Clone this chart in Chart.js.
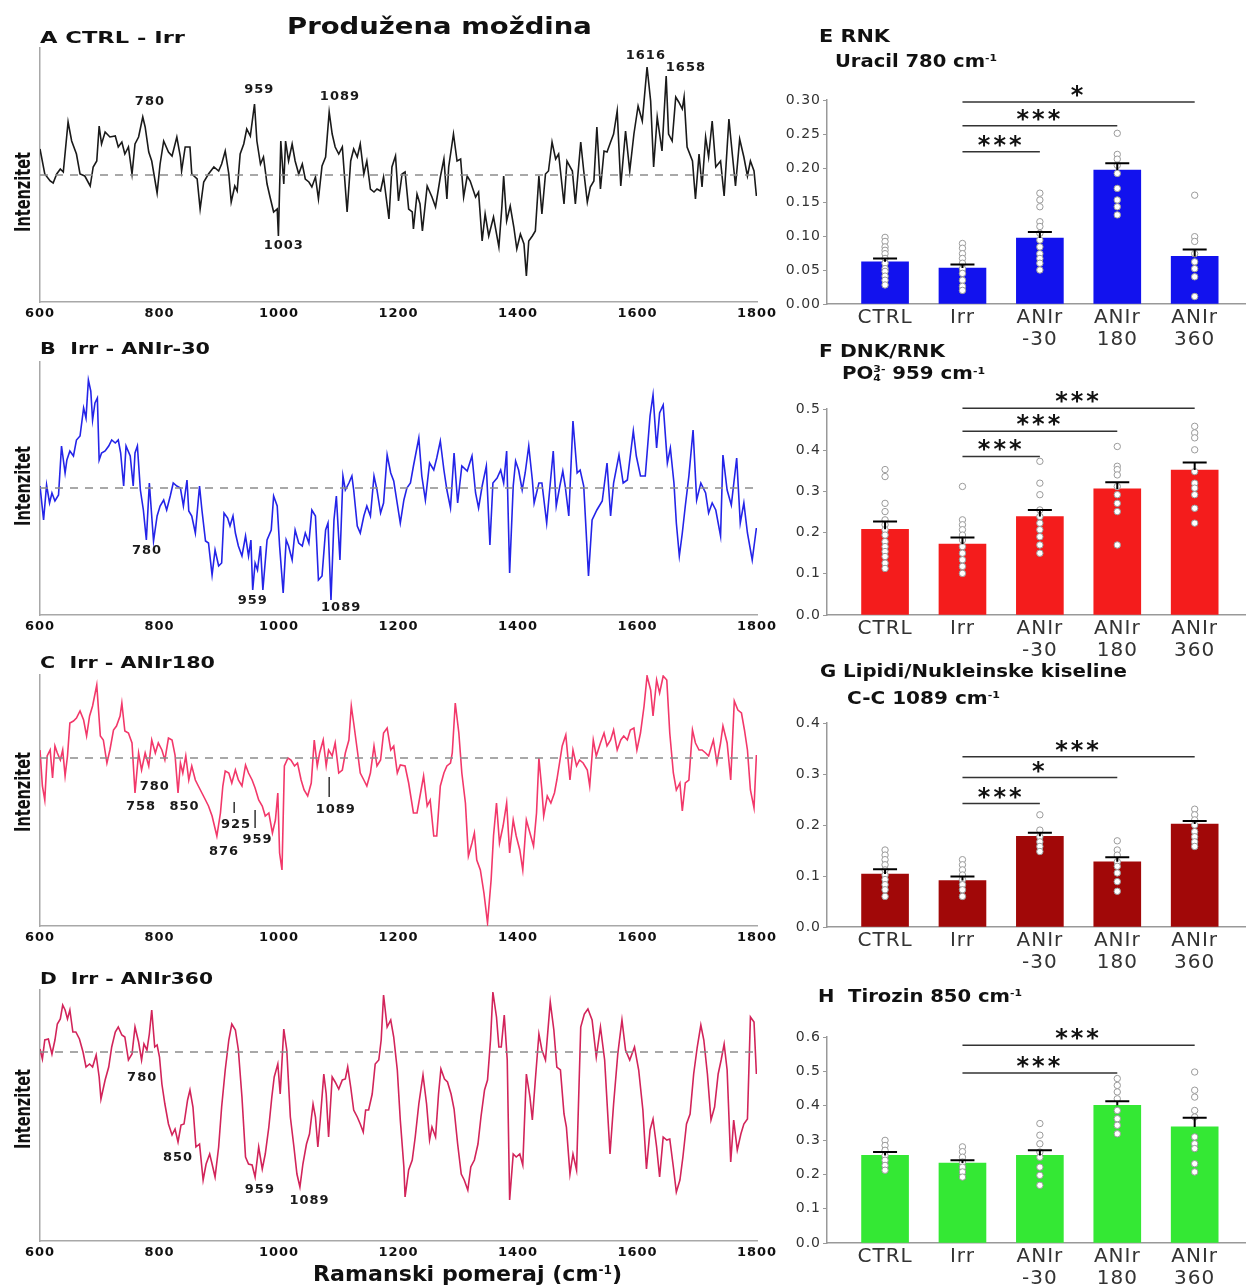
<!DOCTYPE html>
<html>
<head>
<meta charset="utf-8">
<script src="https://cdn.jsdelivr.net/npm/chart.js"></script>
<style>
body{margin:0;width:1250px;height:1288px;position:relative;overflow:hidden;background:#fff;font-family:"DejaVu Sans",sans-serif;}
canvas{position:absolute;}
.t{position:absolute;font-weight:bold;white-space:nowrap;line-height:1;color:#111;transform-origin:0 0;z-index:2;}
.t sup{font-size:0.55em;vertical-align:0.6em;line-height:0;}
.po{display:inline-block;vertical-align:-0.2em;font-size:0.55em;line-height:1;text-align:left;}
.yl{position:absolute;font-weight:bold;white-space:nowrap;line-height:1;color:#111;font-size:21px;z-index:2;}
</style>
</head>
<body>
<canvas id="spA" width="790" height="313" style="left:0;top:18px"></canvas>
<canvas id="spB" width="790" height="312" style="left:0;top:332px"></canvas>
<canvas id="spC" width="790" height="310" style="left:0;top:645px"></canvas>
<canvas id="spD" width="790" height="310" style="left:0;top:960px"></canvas>
<canvas id="stE" width="490" height="299" style="left:760px;top:60px"></canvas>
<canvas id="stF" width="490" height="301" style="left:760px;top:369px"></canvas>
<canvas id="stG" width="490" height="299" style="left:760px;top:683px"></canvas>
<canvas id="stH" width="490" height="301" style="left:760px;top:997px"></canvas>

<div class="t" style="left:287px;top:15px;font-size:23px" data-w="305">Produžena moždina</div>
<div class="t" style="left:40px;top:31px;font-size:15px" data-w="145">A CTRL - Irr</div>
<div class="t" style="left:40px;top:341px;font-size:16px" data-w="170">B&nbsp; Irr - ANIr-30</div>
<div class="t" style="left:40px;top:655px;font-size:16px" data-w="175">C&nbsp; Irr - ANIr180</div>
<div class="t" style="left:40px;top:971px;font-size:16px" data-w="173">D&nbsp; Irr - ANIr360</div>
<div class="t" style="left:819px;top:28px;font-size:17px" data-w="71">E RNK</div>
<div class="t" style="left:835px;top:53px;font-size:17px" data-w="162">Uracil 780 cm<sup>-1</sup></div>
<div class="t" style="left:819px;top:343px;font-size:17px" data-w="126">F DNK/RNK</div>
<div class="t" style="left:842px;top:364px;font-size:17px" data-w="143">PO<span class="po">3-<br>4</span> 959 cm<sup>-1</sup></div>
<div class="t" style="left:820px;top:663px;font-size:17px" data-w="307">G Lipidi/Nukleinske kiseline</div>
<div class="t" style="left:847px;top:690px;font-size:17px" data-w="153">C-C 1089 cm<sup>-1</sup></div>
<div class="t" style="left:818px;top:988px;font-size:17px" data-w="204">H&nbsp; Tirozin 850 cm<sup>-1</sup></div>
<div class="t" style="left:313px;top:1263px;font-size:22px" data-w="309">Ramanski pomeraj (cm<sup>-1</sup>)</div>
<div class="yl" style="left:23px;top:192px" data-h="80">Intenzitet</div>
<div class="yl" style="left:23px;top:486px" data-h="80">Intenzitet</div>
<div class="yl" style="left:23px;top:792px" data-h="80">Intenzitet</div>
<div class="yl" style="left:23px;top:1109px" data-h="80">Intenzitet</div>

<script>
// Razlike spektara (pomeraj u cm-1 i intenzitet, proizvoljne jedinice)
var ramanA = [600,608,617,622,628,634,639,647,653,661,667,675,684,689,695,699,703,709,717,726,731,737,742,748,754,759,765,772,776,782,787,796,801,807,815,821,829,835,837,843,851,854,863,868,874,882,891,899,904,910,916,920,926,930,935,941,946,952,959,963,969,974,980,985,991,997,999,1003,1008,1011,1016,1022,1027,1033,1039,1044,1050,1055,1061,1066,1072,1078,1084,1089,1094,1100,1106,1114,1120,1125,1131,1136,1142,1147,1153,1159,1164,1170,1175,1184,1189,1195,
  1200,1206,1211,1217,1223,1225,1231,1236,1240,1248,1256,1262,1270,1276,1281,1284,1292,1298,1304,1309,1315,1320,1329,1334,1340,1345,1351,1359,1368,1373,1376,1381,1387,1393,1398,1404,1410,1414,1418,1424,1429,1435,1440,1446,1451,1457,1463,1468,1477,1482,1491,1496,1505,1510,1516,1521,1527,1532,1538,1544,1549,1555,1560,1566,1572,1580,1587,1594,1601,1608,1616,1622,1627,1633,1641,1648,1652,1658,1664,1669,1675,1678,1683,1692,1697,1703,1708,1714,1719,1725,1731,1739,1745,1753,1759,1764,1771,1778,1784,1789,1795,1799];
var intA = [26,1,-6,-8,1,6,3,53,34,21,1,-1,-11,8,14,49,31,43,38,39,28,33,21,28,1,31,38,58,48,23,14,-18,11,34,23,19,38,18,4,28,28,1,-4,-34,-7,1,8,4,11,24,1,-27,-11,-16,21,31,46,39,71,34,11,18,-9,-22,-37,-34,-61,34,-9,34,14,31,14,1,11,-4,-7,-12,-2,-24,9,18,63,41,28,21,28,-37,14,26,18,31,1,14,-14,-17,-14,-16,-2,-44,8,19,
  -26,1,3,-34,-37,-54,-19,-29,-56,-11,-22,-32,-2,16,-24,8,41,14,16,-22,-1,-6,-22,-17,-66,-39,-61,-42,-72,-32,-1,-46,-31,-52,-74,-59,-69,-101,-66,-61,-56,-1,-39,1,4,33,16,21,-29,14,4,-29,33,4,-27,-12,-6,48,-14,24,23,33,41,64,-11,44,4,41,69,54,108,74,8,58,24,99,41,34,78,73,66,78,28,14,-24,21,-12,38,18,54,8,14,-21,56,19,-11,36,18,-1,14,4,-21];

var ramanB = [600,606,611,616,620,625,631,636,642,645,650,656,661,667,673,677,681,685,688,692,696,699,703,709,715,720,726,731,735,740,744,751,756,759,763,768,773,778,783,790,796,801,807,812,818,823,829,835,840,846,849,854,860,867,871,877,882,888,893,899,904,908,914,918,923,927,932,938,944,949,953,956,960,964,969,973,980,987,991,997,1001,1007,1012,1016,1022,1027,1033,1039,1044,1050,1055,1061,1066,1072,1078,1082,1087,1092,1096,1102,1107,1111,1117,1122,1125,1131,1136,1142,1147,1153,1159,1164,1170,1175,1181,1187,1192,
  1203,1209,1214,1220,1225,1234,1239,1245,1252,1259,1264,1270,1276,1281,1287,1293,1299,1306,1315,1323,1329,1334,1340,1347,1353,1358,1365,1371,1376,1381,1386,1392,1396,1401,1407,1412,1418,1424,1427,1435,1440,1448,1451,1459,1464,1470,1475,1479,1485,1492,1499,1504,1510,1518,1524,1532,1541,1549,1555,1560,1569,1576,1583,1593,1598,1605,1613,1621,1626,1632,1637,1643,1650,1655,1661,1665,1670,1675,1680,1686,1693,1699,1706,1714,1719,1725,1731,1739,1743,1750,1757,1766,1772,1778,1784,1792,1799];
var intB = [2,-32,3,-15,-5,-13,-7,42,15,28,37,32,48,52,80,70,108,97,68,85,90,28,35,37,42,48,45,48,35,2,42,32,2,35,42,-2,-22,-52,5,-53,-28,-18,-12,-22,-8,5,2,0,-18,8,-23,-28,-45,2,-22,-53,-55,-87,-62,-78,-75,-25,-30,-38,-28,-45,-58,-68,-48,-68,-52,-102,-75,-82,-58,-102,-52,-42,-8,-18,-58,-105,-52,-58,-72,-42,-55,-58,-45,-55,-22,-28,-92,-88,-42,-35,-112,-32,-8,-72,12,-2,5,12,-2,-38,-45,-28,-18,-28,12,-2,-25,-15,33,15,7,
  -35,-12,0,5,22,50,12,-12,25,18,30,47,18,-2,-20,35,-15,22,17,32,-5,-20,2,22,-57,5,10,18,5,37,-85,2,27,18,-2,15,42,8,-15,5,5,-35,-15,37,-18,2,17,2,-28,67,15,18,2,-88,-32,-22,-13,25,-28,5,33,5,8,57,32,12,12,72,93,40,75,83,25,40,5,-35,-68,-45,-18,12,58,-12,5,-5,-25,-15,-22,-48,33,-2,-17,30,-35,-15,-45,-72,-40];

var ramanC = [600,604,608,612,617,621,625,629,634,638,642,646,650,656,661,667,673,678,683,688,695,701,706,712,717,723,728,734,737,742,748,754,759,765,770,776,782,787,793,798,804,809,815,821,826,831,835,839,844,849,854,860,865,871,877,882,888,896,902,906,910,916,921,927,932,938,944,949,955,960,966,972,977,983,989,994,998,1001,1005,1009,1015,1020,1026,1031,1037,1042,1048,1054,1059,1064,1068,1074,1079,1083,1089,1094,1100,1106,1111,1117,1121,1125,1131,1136,1142,1147,1153,1159,1164,1170,1175,1181,1187,1192,1198,
  1203,1211,1217,1225,1231,1236,1242,1248,1253,1259,1264,1270,1276,1281,1287,1290,1295,1301,1306,1312,1317,1323,1327,1331,1337,1343,1349,1355,1359,1364,1369,1375,1381,1386,1392,1397,1403,1408,1414,1420,1426,1431,1435,1440,1443,1449,1455,1461,1465,1474,1480,1487,1492,1498,1503,1509,1516,1520,1526,1531,1538,1544,1549,1555,1560,1566,1572,1577,1583,1588,1594,1599,1605,1611,1616,1622,1626,1632,1637,1643,1649,1654,1660,1665,1671,1675,1680,1686,1692,1697,1703,1708,1714,1719,1727,1733,1739,1743,1750,1756,1762,1768,1774,1779,1784,1789,1795,1799];
var intC = [8,-28,-42,2,8,-20,12,5,-2,8,-18,2,35,37,40,47,38,22,42,52,73,22,18,-5,8,28,32,42,55,27,25,15,-35,5,-12,5,-8,18,5,15,8,-2,20,18,3,-35,-5,-15,2,-22,-8,-22,-28,-35,-42,-48,-58,-78,-55,-28,-13,-15,-25,-12,-22,-28,-7,-15,-22,-30,-42,-48,-58,-55,-75,-62,-35,-95,-112,-8,0,-2,-8,-5,-22,-32,-38,-25,18,-8,5,18,-8,8,2,15,-15,-12,5,18,52,35,8,-15,-22,-28,-15,12,-8,-2,25,30,8,12,-15,
  -7,-8,-25,-55,-55,-38,-18,-48,-42,-78,-78,-28,-15,-8,-5,5,55,25,-15,-45,-98,-85,-75,-102,-112,-135,-165,-122,-78,-45,-85,-68,-45,-95,-62,-78,-92,-112,-62,-75,-88,-55,0,-32,-58,-38,-45,-35,-22,12,23,-22,8,-8,-2,-5,-12,-28,18,2,15,25,12,18,28,8,18,22,18,28,30,8,25,52,82,68,42,78,65,82,78,25,-15,-32,-25,-53,-25,-22,28,15,8,8,5,2,18,-5,15,32,15,-22,57,48,45,28,8,-32,-50,3];

var ramanD = [600,604,608,614,620,625,629,634,638,642,646,650,655,660,666,672,677,683,688,694,699,702,709,715,720,726,731,737,742,748,754,759,765,770,774,779,783,787,792,796,800,804,809,815,821,826,831,836,841,847,851,856,861,867,873,878,884,888,893,899,904,910,916,921,927,932,938,944,949,955,960,966,972,977,983,988,992,998,1002,1008,1013,1019,1025,1030,1035,1040,1046,1051,1057,1061,1065,1069,1075,1079,1083,1089,1094,1100,1106,1111,1115,1120,1125,1131,1136,1141,1145,1150,1156,1161,1167,1171,1175,1181,1187,1192,1198,
  1203,1209,1211,1217,1223,1228,1234,1241,1247,1252,1256,1262,1267,1271,1277,1282,1288,1293,1299,1305,1310,1316,1321,1327,1333,1338,1344,1349,1354,1358,1364,1368,1372,1377,1382,1386,1392,1397,1403,1408,1414,1420,1424,1429,1435,1440,1446,1454,1460,1465,1471,1477,1481,1487,1492,1498,1505,1511,1517,1524,1531,1538,1545,1554,1560,1567,1574,1580,1587,1595,1602,1609,1615,1621,1626,1632,1637,1643,1649,1654,1660,1665,1671,1676,1682,1688,1694,1700,1706,1711,1717,1723,1729,1735,1740,1745,1750,1756,1761,1767,1773,1778,1784,1789,1795,1799];
var intD = [3,-7,12,13,-2,12,28,33,47,42,33,42,20,20,13,0,-15,-12,-15,-3,-25,-47,-28,-15,5,20,25,17,15,-8,-2,25,10,-8,8,2,18,42,5,7,-5,-32,-52,-72,-83,-77,-90,-73,-72,-48,-38,-55,-95,-92,-128,-112,-102,-112,-125,-95,-55,-18,12,28,22,2,-45,-105,-112,-113,-125,-95,-117,-102,-75,-45,-25,-12,-42,23,2,-65,-95,-122,-135,-112,-92,-82,-52,-65,-95,-68,-22,-42,-85,-25,-30,-37,-28,-27,-15,-35,-58,-65,-72,-80,-58,-58,-42,-12,-8,12,57,25,32,15,-18,
  -68,-115,-145,-118,-108,-85,-52,-23,-52,-88,-75,-85,-42,-17,-27,-30,-42,-57,-92,-122,-128,-138,-115,-108,-92,-65,-38,-28,12,60,35,5,5,37,-8,-148,-102,-105,-102,-113,-22,-45,-68,-28,18,2,-8,50,22,-15,-18,-62,-75,-122,-102,-118,25,38,43,32,-5,25,-8,-102,-52,-2,32,2,-8,5,-18,-58,-117,-78,-67,-95,-125,-85,-88,-87,-115,-140,-128,-105,-72,-62,-22,5,27,12,-22,-68,-55,-22,-8,8,-18,-110,-68,-98,-82,-72,-67,35,30,-22];

// Oznake pikova: [tekst, pomeraj, intenzitet]
var pikoviA = [['780', 784, 73], ['959', 967, 85], ['1089', 1102, 78], ['1003', 1008, -71], ['1616', 1614, 119], ['1658', 1681, 107]];
var pikoviB = [['780', 779, -63], ['959', 956, -113], ['1089', 1104, -120]];
var pikoviC = [['780', 792, -29], ['758', 769, -49], ['850', 842, -49], ['925', 928, -67], ['959', 964, -82], ['876', 908, -94], ['1089', 1095, -52]];
var crticeC = [[925, -44, -55], [960, -52, -70], [1084, -19, -39]];
var pikoviD = [['780', 771, -26], ['850', 831, -106], ['959', 968, -138], ['1089', 1051, -149]];

// Stubicasti grafici
var grupe = [['CTRL'], ['Irr'], ['ANIr', '-30'], ['ANIr', '180'], ['ANIr', '360']];

var srednjeE = [0.062, 0.053, 0.097, 0.197, 0.070];
var semE = [0.005, 0.005, 0.009, 0.010, 0.010];
var tackeE = [
  [0.098, 0.092, 0.084, 0.079, 0.074, 0.067, 0.060, 0.052, 0.048, 0.041, 0.035, 0.028],
  [0.089, 0.082, 0.074, 0.067, 0.060, 0.052, 0.045, 0.035, 0.026, 0.020],
  [0.163, 0.153, 0.143, 0.121, 0.114, 0.104, 0.094, 0.084, 0.074, 0.067, 0.060, 0.050],
  [0.251, 0.220, 0.213, 0.204, 0.192, 0.170, 0.153, 0.143, 0.131],
  [0.160, 0.099, 0.092, 0.074, 0.062, 0.052, 0.040, 0.011]
];
var znacajE = [{ od: 2, doG: 3, y: 0.224, t: '***' }, { od: 2, doG: 4, y: 0.262, t: '***' }, { od: 2, doG: 5, y: 0.297, t: '*' }];

var srednjeF = [0.208, 0.172, 0.239, 0.306, 0.352];
var semF = [0.019, 0.016, 0.016, 0.016, 0.018];
var tackeF = [
  [0.353, 0.336, 0.271, 0.251, 0.231, 0.219, 0.207, 0.194, 0.178, 0.166, 0.154, 0.142, 0.126, 0.113],
  [0.312, 0.231, 0.219, 0.207, 0.194, 0.182, 0.166, 0.150, 0.134, 0.118, 0.101],
  [0.373, 0.320, 0.292, 0.255, 0.239, 0.223, 0.207, 0.190, 0.170, 0.150],
  [0.409, 0.361, 0.353, 0.340, 0.312, 0.292, 0.271, 0.251, 0.170],
  [0.458, 0.442, 0.430, 0.401, 0.348, 0.320, 0.308, 0.292, 0.259, 0.223]
];
var znacajF = [{ od: 2, doG: 3, y: 0.385, t: '***' }, { od: 2, doG: 4, y: 0.446, t: '***' }, { od: 2, doG: 5, y: 0.502, t: '***' }];

var srednjeG = [0.104, 0.091, 0.178, 0.128, 0.202];
var semG = [0.009, 0.008, 0.007, 0.009, 0.006];
var tackeG = [
  [0.151, 0.141, 0.132, 0.122, 0.112, 0.102, 0.093, 0.083, 0.073, 0.060],
  [0.132, 0.122, 0.112, 0.102, 0.093, 0.083, 0.073, 0.060],
  [0.220, 0.190, 0.177, 0.167, 0.158, 0.148],
  [0.169, 0.151, 0.141, 0.128, 0.119, 0.106, 0.089, 0.070],
  [0.231, 0.220, 0.210, 0.200, 0.187, 0.177, 0.167, 0.158]
];
var znacajG = [{ od: 2, doG: 3, y: 0.242, t: '***' }, { od: 2, doG: 4, y: 0.293, t: '*' }, { od: 2, doG: 5, y: 0.334, t: '***' }];

var srednjeH = [0.255, 0.233, 0.255, 0.401, 0.338];
var semH = [0.010, 0.008, 0.015, 0.012, 0.027];
var tackeH = [
  [0.299, 0.284, 0.270, 0.255, 0.241, 0.226, 0.212],
  [0.280, 0.266, 0.250, 0.236, 0.221, 0.207, 0.192],
  [0.348, 0.314, 0.289, 0.265, 0.250, 0.221, 0.197, 0.168],
  [0.479, 0.459, 0.440, 0.420, 0.386, 0.362, 0.343, 0.318],
  [0.498, 0.445, 0.425, 0.386, 0.367, 0.309, 0.289, 0.275, 0.231, 0.207]
];
var znacajH = [{ od: 2, doG: 4, y: 0.495, t: '***' }, { od: 2, doG: 5, y: 0.576, t: '***' }];

// razmak izmedju slova za tekst na platnu
function razmakPlugin(px) {
  return {
    id: 'razmak',
    beforeDraw: function (chart) { chart.ctx.letterSpacing = px + 'px'; },
    afterDraw: function (chart) { chart.ctx.letterSpacing = '0px'; }
  };
}

function oznakePlugin(pikovi, crtice) {
  return {
    id: 'oznake',
    afterDatasetsDraw: function (chart) {
      var ctx = chart.ctx, sx = chart.scales.x, sy = chart.scales.y;
      ctx.save();
      ctx.letterSpacing = '1px';
      ctx.font = 'bold 13px "DejaVu Sans"';
      ctx.fillStyle = '#1a1a1a';
      ctx.textAlign = 'center';
      ctx.textBaseline = 'middle';
      pikovi.forEach(function (p) {
        ctx.fillText(p[0], sx.getPixelForValue(p[1]), sy.getPixelForValue(p[2]));
      });
      ctx.strokeStyle = '#333';
      ctx.lineWidth = 1.5;
      (crtice || []).forEach(function (c) {
        var px = sx.getPixelForValue(c[0]);
        ctx.beginPath();
        ctx.moveTo(px, sy.getPixelForValue(c[1]));
        ctx.lineTo(px, sy.getPixelForValue(c[2]));
        ctx.stroke();
      });
      ctx.restore();
    }
  };
}

function napraviSpektar(id, ramanX, intenzitet, boja, yMin, yMax, pikovi, crtice) {
  var tacke = ramanX.map(function (x, i) { return { x: x, y: intenzitet[i] }; });
  var osnova = [{ x: 600, y: 0 }, { x: 1800, y: 0 }];
  new Chart(document.getElementById(id), {
    type: 'line',
    data: {
      datasets: [
        { data: osnova, borderColor: '#8c8c8c', borderWidth: 1.3, borderDash: [8, 7], pointRadius: 0 },
        { data: tacke, borderColor: boja, borderWidth: 1.6, pointRadius: 0, tension: 0 }
      ]
    },
    options: {
      responsive: false,
      animation: false,
      devicePixelRatio: 1,
      layout: { padding: { left: 40, right: 33, top: 30, bottom: 5 } },
      plugins: { legend: { display: false }, tooltip: { enabled: false } },
      scales: {
        x: {
          type: 'linear', min: 600, max: 1800,
          ticks: { stepSize: 200, color: '#111', padding: 4, font: { family: 'DejaVu Sans', weight: 'bold', size: 13 },
                   callback: function (v) { return String(v); } },
          grid: { display: false, drawTicks: false },
          border: { color: '#a8a8a8', width: 1.5 },
          afterFit: function (s) { s.height = 24; }
        },
        y: {
          min: yMin, max: yMax,
          ticks: { display: false },
          grid: { display: false, drawTicks: false },
          border: { color: '#a8a8a8', width: 1.5 },
          afterFit: function (s) { s.width = 0; }
        }
      }
    },
    plugins: [razmakPlugin(1), oznakePlugin(pikovi, crtice)]
  });
}

function greskePlugin(srednje, sem, znacaj) {
  return {
    id: 'greske',
    afterDatasetsDraw: function (chart) {
      var ctx = chart.ctx, sx = chart.scales.x, sy = chart.scales.y;
      ctx.save();
      ctx.strokeStyle = '#000';
      ctx.lineWidth = 2;
      srednje.forEach(function (m, i) {
        var px = sx.getPixelForValue(i + 1);
        var p1 = sy.getPixelForValue(m + sem[i]);
        ctx.beginPath();
        ctx.moveTo(px, sy.getPixelForValue(m));
        ctx.lineTo(px, p1);
        ctx.moveTo(px - 12, p1);
        ctx.lineTo(px + 12, p1);
        ctx.stroke();
      });
      ctx.strokeStyle = '#333';
      ctx.lineWidth = 1.5;
      ctx.fillStyle = '#111';
      ctx.font = 'bold 24px "DejaVu Sans"';
      ctx.letterSpacing = '3px';
      ctx.textAlign = 'center';
      ctx.textBaseline = 'alphabetic';
      znacaj.forEach(function (z) {
        var xa = sx.getPixelForValue(z.od), xb = sx.getPixelForValue(z.doG), py = sy.getPixelForValue(z.y);
        ctx.beginPath();
        ctx.moveTo(xa, py);
        ctx.lineTo(xb, py);
        ctx.stroke();
        var m = ctx.measureText(z.t);
        ctx.fillText(z.t, (xa + xb) / 2, py - 11 + (m.actualBoundingBoxAscent - m.actualBoundingBoxDescent) / 2);
      });
      ctx.restore();
    }
  };
}

function napraviStubice(id, srednje, sem, tacke, znacaj, boja, yMax, korak, decimale) {
  var stubici = srednje.map(function (v, i) { return { x: i + 1, y: v }; });
  var pojedinacne = [];
  tacke.forEach(function (grupa, i) {
    grupa.forEach(function (v) { pojedinacne.push({ x: i + 1, y: v }); });
  });
  new Chart(document.getElementById(id), {
    type: 'bar',
    data: {
      datasets: [
        { type: 'scatter', data: pojedinacne, pointRadius: 3.2, pointBackgroundColor: '#fff', pointBorderColor: '#9a9a9a', pointBorderWidth: 1, order: 0 },
        { type: 'bar', data: stubici, backgroundColor: boja, borderWidth: 0, barThickness: 47, order: 1 }
      ]
    },
    options: {
      responsive: false,
      animation: false,
      devicePixelRatio: 1,
      layout: { padding: { left: 0, right: 0, top: 40, bottom: 0 } },
      plugins: { legend: { display: false }, tooltip: { enabled: false } },
      scales: {
        x: {
          type: 'linear', min: 0.25, max: 5.65, offset: false,
          afterBuildTicks: function (s) { s.ticks = grupe.map(function (g, i) { return { value: i + 1 }; }); },
          ticks: {
            autoSkip: false, maxRotation: 0, color: '#333', padding: 3,
            font: { family: 'DejaVu Sans', size: 20, lineHeight: 1.1 },
            callback: function (v) { return grupe[v - 1]; }
          },
          grid: { display: false, drawTicks: false },
          border: { color: '#999', width: 1.5 },
          afterFit: function (s) { s.height = 55; }
        },
        y: {
          min: 0, max: yMax,
          ticks: { stepSize: korak, color: '#333', padding: 2, font: { family: 'DejaVu Sans', size: 14 },
                   callback: function (v) { return v.toFixed(decimale); } },
          grid: { display: true, drawOnChartArea: false, drawTicks: true, tickLength: 4, color: '#999' },
          border: { color: '#999', width: 1.5 },
          afterFit: function (s) { s.width = 67; }
        }
      }
    },
    plugins: [razmakPlugin(1), greskePlugin(srednje, sem, znacaj)]
  });
}

// naslovi: sirina prema originalu
document.querySelectorAll('.t').forEach(function (el) {
  var w = el.getBoundingClientRect().width;
  el.style.transform = 'scaleX(' + (el.dataset.w / w).toFixed(3) + ')';
});
document.querySelectorAll('.yl').forEach(function (el) {
  var w = el.getBoundingClientRect().width;
  el.style.transform = 'translate(-50%,-50%) rotate(-90deg) scaleX(' + (el.dataset.h / w).toFixed(3) + ')';
});

napraviSpektar('spA', ramanA, intA, '#1a1a1a', -127, 127, pikoviA);
napraviSpektar('spB', ramanB, intB, '#2424e8', -127, 126, pikoviB);
napraviSpektar('spC', ramanC, intC, '#f2386a', -168, 83, pikoviC, crticeC);
napraviSpektar('spD', ramanD, intD, '#d2245a', -189, 62, pikoviD);

napraviStubice('stE', srednjeE, semE, tackeE, znacajE, '#1212ee', 0.30, 0.05, 2);
napraviStubice('stF', srednjeF, semF, tackeF, znacajF, '#f41c1c', 0.5, 0.1, 1);
napraviStubice('stG', srednjeG, semG, tackeG, znacajG, '#a10808', 0.4, 0.1, 1);
napraviStubice('stH', srednjeH, semH, tackeH, znacajH, '#34e834', 0.6, 0.1, 1);
</script>
</body>
</html>
